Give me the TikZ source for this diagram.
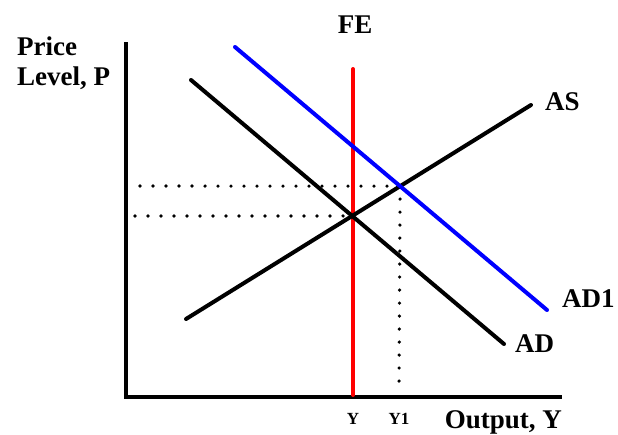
\documentclass[tikz,border=0pt]{standalone}
\usepackage{fontspec}
\setmainfont{Liberation Serif}
\usetikzlibrary{positioning}
\tikzset{
  axis/.style={draw,line width=4pt,line join=miter},
  curve/.style={draw,line width=4pt,line cap=round},
  guide/.style={draw,line width=3.6pt,line cap=round,dash pattern=on 0pt off 13pt},
  lbl/.style={font=\fontsize{27}{30}\selectfont\bfseries,inner sep=0pt},
  tick/.style={font=\fontsize{17}{19}\selectfont\bfseries,inner sep=0pt}
}

\begin{document}
\begin{tikzpicture}[x=1pt,y=-1pt]
\useasboundingbox (0,0) rectangle (618,434);
% axes
\coordinate (ytop) at (126,42);
\coordinate (O) at (126,397);
\coordinate (xend) at (562,397);
\draw[axis] (ytop) -- (O) -- (xend);
% curve ends
\coordinate (FE0) at (353,69);
\coordinate (FE1) at (353,395);
\coordinate (AS0) at (186,319);
\coordinate (AS1) at (531,105);
\coordinate (AD0) at (191,80);
\coordinate (AD1) at (504,344);
\coordinate (ADa) at (235,47);
\coordinate (ADb) at (547,310);
% equilibria
\coordinate (E0) at (intersection of AS0--AS1 and AD0--AD1);
\coordinate (E1) at (intersection of AS0--AS1 and ADa--ADb);
\coordinate (P0) at (135,216);
\coordinate (P1) at (140,186);
\coordinate (Y1) at (399,390);
\draw[guide] (P0) -- (E0);
\draw[guide] (P1) -- (E1) -- (Y1);
\draw[curve,red] (FE0) -- (FE1);
\draw[curve] (AS0) -- (AS1);
\draw[curve] (AD0) -- (AD1);
\draw[curve,blue] (ADa) -- (ADb);
% labels
\node[lbl,align=left,anchor=north west] (plbl) at (17,37) {Price\\Level, P};
\node[lbl,anchor=base] (felbl) at (355,33) {FE};
\node[lbl,anchor=base west] (aslbl) at (545,110) {AS};
\node[lbl,anchor=base west] (ad1lbl) at (562,307) {AD1};
\node[lbl,anchor=base west] (adlbl) at (515,352) {AD};
\node[tick,anchor=base] (ylbl) at (353,424) {Y};
\node[tick,anchor=base] (y1lbl) at (399,424) {Y1};
\node[lbl,anchor=base east] (xlbl) at (562,428) {Output, Y};
\end{tikzpicture}
\end{document}
